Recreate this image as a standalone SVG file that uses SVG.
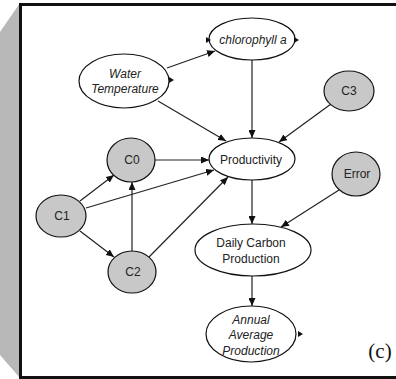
<svg xmlns="http://www.w3.org/2000/svg" width="396" height="379" viewBox="0 0 396 379">
<defs>
<marker id="arr" markerUnits="userSpaceOnUse" markerWidth="9" markerHeight="7" refX="8" refY="3.5" orient="auto">
<path d="M0,0 L8,3.5 L0,7 z" fill="#111"/>
</marker>
<style>
.n{stroke:#111;stroke-width:1.2;fill:#fff}
.g{stroke:#111;stroke-width:1.2;fill:#c8c8c8}
.t{font-family:"Liberation Sans",Arial,sans-serif;font-size:12px;fill:#222;text-anchor:middle}
.i{font-style:italic}
.e{stroke:#222;stroke-width:1.2;fill:none;marker-end:url(#arr)}
.m{fill:#111}
</style>
</defs>
<rect x="0" y="0" width="396" height="379" fill="#fff"/>
<polygon points="20,3 0,32 0,355 20,378" fill="#b8b8b8"/>
<rect x="20.5" y="4.5" width="390" height="373" fill="#fff" stroke="#111" stroke-width="3"/>
<g id="connectors">
<path class="e" d="M167,68 L215,51"/>
<path class="e" d="M158,101 L226,141"/>
<path class="e" d="M252,60 L252,138"/>
<path class="e" d="M331,104 L279,142"/>
<path class="e" d="M155,160 L209,160"/>
<path class="e" d="M80,201 L114,175"/>
<path class="e" d="M86,208 L214,170"/>
<path class="e" d="M80,231 L114,257"/>
<path class="e" d="M132,251 L132,182"/>
<path class="e" d="M149,257 L228,177"/>
<path class="e" d="M252,180 L252,224"/>
<path class="e" d="M339,190 L281,227"/>
<path class="e" d="M252,276 L252,306"/>
</g>
<g id="water">
<ellipse class="n" cx="124" cy="81" rx="45" ry="27"/>
<polygon class="m" points="169,77 174,80 169,83"/>
<text class="t i" x="125" y="78">Water</text>
<text class="t i" x="125" y="93">Temperature</text>
</g>
<g id="chlorophyll">
<ellipse class="n" cx="252" cy="39" rx="43" ry="21"/>
<polygon class="m" points="206,37 211,40 206,43"/>
<polygon class="m" points="294,37 299,40 294,43"/>
<text class="t i" x="253" y="43.5">chlorophyll a</text>
</g>
<g id="c3">
<ellipse class="g" cx="349" cy="91" rx="25" ry="20"/>
<text class="t" x="349" y="95">C3</text>
</g>
<g id="productivity">
<ellipse class="n" cx="252" cy="159" rx="43" ry="21"/>
<text class="t" x="251" y="164">Productivity</text>
</g>
<g id="error">
<ellipse class="g" cx="356" cy="174" rx="24" ry="22"/>
<text class="t" x="357" y="178">Error</text>
</g>
<g id="c0">
<ellipse class="g" cx="131" cy="160" rx="24" ry="22"/>
<text class="t" x="132" y="164">C0</text>
</g>
<g id="c1">
<ellipse class="g" cx="61" cy="216" rx="25" ry="21"/>
<text class="t" x="62" y="220">C1</text>
</g>
<g id="c2">
<ellipse class="g" cx="132" cy="272" rx="24" ry="21"/>
<text class="t" x="133" y="276">C2</text>
</g>
<g id="daily">
<ellipse class="n" cx="253" cy="250" rx="58" ry="26"/>
<text class="t" x="251" y="247">Daily Carbon</text>
<text class="t" x="251" y="263">Production</text>
</g>
<g id="annual">
<ellipse class="n" cx="251" cy="334" rx="45" ry="28"/>
<polygon class="m" points="298,331 303,334 298,337"/>
<text class="t i" x="251" y="324">Annual</text>
<text class="t i" x="251" y="339">Average</text>
<text class="t i" x="251" y="355">Production</text>
</g>
<text x="380" y="358" font-family="'Liberation Serif','Times New Roman',serif" font-size="21" fill="#111" text-anchor="middle">(c)</text>
</svg>
